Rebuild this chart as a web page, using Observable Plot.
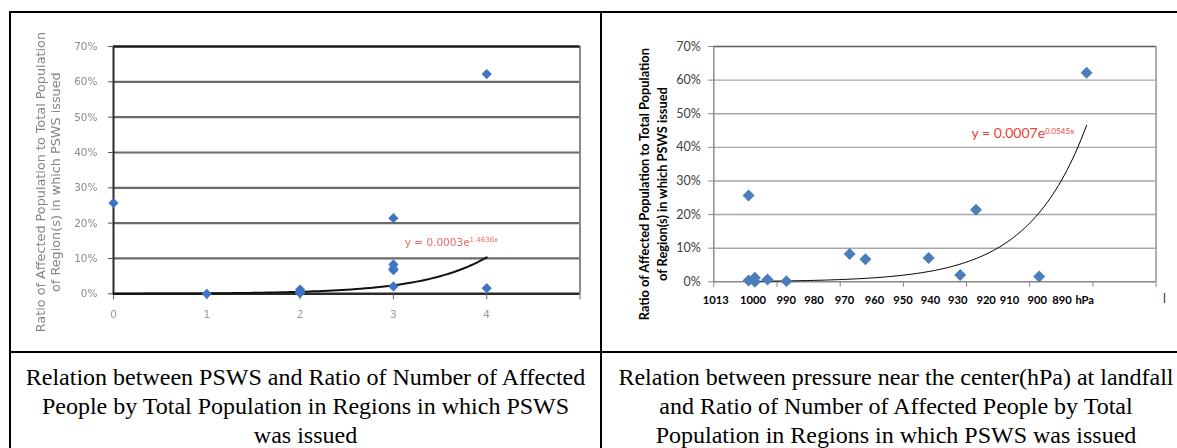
<!DOCTYPE html>
<html><head><meta charset="utf-8">
<script src="https://cdn.jsdelivr.net/npm/d3@7"></script>
<script src="https://cdn.jsdelivr.net/npm/@observablehq/plot@0.6"></script>
<style>
html,body{margin:0;padding:0;}
body{width:1177px;height:448px;overflow:hidden;background:#fff;position:relative;}
.ln{position:absolute;background:#000;}
.cap{position:absolute;font-family:"Liberation Serif","Times New Roman",serif;font-size:24px;line-height:29px;text-align:center;color:#000;white-space:nowrap;}
#left,#right{position:absolute;}
#left svg{filter:blur(0.55px);}
.bar{position:absolute;left:1163px;top:291px;font-family:"Liberation Sans",sans-serif;font-size:11px;color:#000;}
</style></head><body>
<div class="ln" style="left:9px;top:11px;width:1200px;height:2px"></div>
<div class="ln" style="left:9px;top:11px;width:2px;height:440px"></div>
<div class="ln" style="left:600px;top:11px;width:2px;height:440px"></div>
<div class="ln" style="left:9px;top:351px;width:1200px;height:2px"></div>
<div id="left" style="left:11px;top:13px"></div>
<div id="right" style="left:602px;top:13px"></div>
<div class="bar">|</div>
<div class="cap" style="left:11px;top:363px;width:589px">Relation between PSWS and Ratio of Number of Affected<br>People by Total Population in Regions in which PSWS<br>was issued</div>
<div class="cap" style="left:602px;top:363px;width:588px">Relation between pressure near the center(hPa) at landfall<br>and Ratio of Number of Affected People by Total<br>Population in Regions in which PSWS was issued</div>
<script>
// ---- data ----
const pswsLevel = [0, 1, 2, 2, 2, 2, 3, 3, 3, 3, 3, 4, 4];
const ratioByPsws = [0.257, 0.000, 0.012, 0.007, 0.004, 0.002, 0.214, 0.083, 0.067, 0.071, 0.021, 0.622, 0.016];
const pressureDrop = [11, 11, 13, 13, 17, 23, 43, 48, 68, 78, 83, 103, 118];
const ratioByPressure = [0.257, 0.004, 0.012, 0.000, 0.007, 0.002, 0.083, 0.067, 0.071, 0.020, 0.214, 0.016, 0.622];
const yTicks = [0, 0.1, 0.2, 0.3, 0.4, 0.5, 0.6, 0.7];
const pswsTicks = [0, 1, 2, 3, 4, 5];
const pswsTickLabels = ["0", "1", "2", "3", "4", ""];
const pressTicks = [0, 20, 40, 60, 80, 100, 120, 140];
const hpaLabels = ["1013", "1000", "990", "980", "970", "960", "950", "940", "930", "920", "910", "900", "890", "hPa"];
const hpaLabelPos = [0.6, 12.4, 22.9, 31.7, 41.4, 50.9, 59.9, 68.6, 77.2, 86.2, 93.6, 102.4, 110.2, 117.4];
const trendLeft = {a: 0.0003, b: 1.46, base: "y = 0.0003e", sup: "1.4636x"};
const trendRight = {a: 0.00075, b: 0.0545, base: "y = 0.0007e", sup: "0.0545x"};
const titleY = "Ratio of Affected Population to Total Population\nof Region(s) in which PSWS issued";

const pct = d => Math.round(d * 100) + "%";
const ptsL = pswsLevel.map((x, i) => ({x, y: ratioByPsws[i]}));
const ptsR = pressureDrop.map((x, i) => ({x, y: ratioByPressure[i]}));
function trendPts(t, x0, x1, n) {
  return d3.range(n + 1).map(i => { const x = x0 + (x1 - x0) * i / n; return {x, y: t.a * Math.exp(t.b * x)}; });
}
const curveL = trendPts(trendLeft, d3.min(pswsLevel), d3.max(pswsLevel), 80);
const curveR = trendPts(trendRight, d3.min(pressureDrop), d3.max(pressureDrop), 120);
const endL = curveL[curveL.length - 1];
const endR = curveR[curveR.length - 1];
const hpaMap = new Map(hpaLabelPos.map((p, i) => [p, hpaLabels[i]]));

function addSup(svg, base, sup, size) {
  d3.select(svg).selectAll("text").filter(function () { return this.textContent === base; })
    .each(function () { d3.select(this).append("tspan").attr("dy", "-0.5em").attr("font-size", size).text(sup); });
}

const left = Plot.plot({
  width: 589, height: 338,
  marginLeft: 102, marginRight: 20.5, marginTop: 33, marginBottom: 57.7,
  x: {domain: [0, 5], label: null}, y: {domain: [0, 0.7], label: null},
  style: {fontFamily: "'DejaVu Sans', sans-serif", background: "transparent", overflow: "visible"},
  marks: [
    Plot.ruleY(yTicks.slice(1, -1), {stroke: "#6a6a6a", strokeWidth: 2.2}),
    Plot.ruleX([5], {stroke: "#8a8a8a", strokeWidth: 2}),
    Plot.ruleY([0.7], {stroke: "#1a1a1a", strokeWidth: 2.5}),
    Plot.ruleX([0], {stroke: "#2a2a2a", strokeWidth: 2}),
    Plot.ruleY([0], {stroke: "#2a2a2a", strokeWidth: 2.5}),
    Plot.axisY({ticks: yTicks, tickFormat: pct, tickSize: 5, tickPadding: 11, fontSize: 10.5, stroke: "#555", fill: "#8c8c8c", label: null}),
    Plot.axisX({ticks: pswsTicks, tickFormat: d => pswsTickLabels[pswsTicks.indexOf(d)], tickSize: 6, tickPadding: 11, fontSize: 10.5, stroke: "#666", fill: "#9a9a9a", label: null}),
    Plot.text([titleY], {text: d => d, frameAnchor: "left", dx: -66, dy: 12, rotate: -90, fontSize: 12.8, lineHeight: 1.2, fill: "#858585", textAnchor: "middle"}),
    Plot.line(curveL, {x: "x", y: "y", stroke: "#111", strokeWidth: 2}),
    Plot.dot(ptsL, {x: "x", y: "y", symbol: "diamond2", r: 4.6, fill: "#3f74c2", stroke: "none"}),
    Plot.text([endL], {x: "x", y: "y", text: () => trendLeft.base, dx: -82, dy: -15, textAnchor: "start", fontSize: 10.5, fill: "#e66a6a"})
  ]
});
addSup(left, trendLeft.base, trendLeft.sup, 7);
document.getElementById("left").append(left);

const right = Plot.plot({
  width: 575, height: 338,
  marginLeft: 111.3, marginRight: 21.4, marginTop: 33, marginBottom: 69.7,
  x: {domain: [0, 140], label: null}, y: {domain: [0, 0.7], label: null},
  style: {fontFamily: "Lato, 'Open Sans', sans-serif", background: "transparent", overflow: "visible"},
  marks: [
    Plot.ruleY(yTicks.slice(1, -1), {stroke: "#a6a6a6", strokeWidth: 1.4}),
    Plot.ruleX([140], {stroke: "#8c8c8c", strokeWidth: 1.4}),
    Plot.ruleY([0.7], {stroke: "#5a5a5a", strokeWidth: 1.6}),
    Plot.ruleX([0], {stroke: "#868686", strokeWidth: 1.4}),
    Plot.ruleY([0], {stroke: "#868686", strokeWidth: 1.4}),
    Plot.axisY({ticks: yTicks, tickFormat: pct, tickSize: 5, tickPadding: 8, fontSize: 12.5, stroke: "#868686", fill: "#404040", label: null}),
    Plot.axisX({ticks: pressTicks, tickFormat: () => "", tickSize: 5.5, stroke: "#868686", label: null}),
    Plot.axisX({ticks: hpaLabelPos, tickFormat: d => hpaMap.get(d), tickSize: 0, tickPadding: 14.5, fontSize: 11.2, fontWeight: "bold", fill: "#000", label: null}),
    Plot.text([titleY], {text: d => d, frameAnchor: "left", dx: -61.3, dy: 20, rotate: -90, fontSize: 12.8, fontWeight: "bold", lineHeight: 1.36, fill: "#000", textAnchor: "middle"}),
    Plot.line(curveR, {x: "x", y: "y", stroke: "#000", strokeWidth: 1}),
    Plot.dot(ptsR, {x: "x", y: "y", symbol: "diamond2", r: 5.4, fill: "#4a7ebb", stroke: "none"}),
    Plot.text([endR], {x: "x", y: "y", text: () => trendRight.base, dx: -115, dy: 8, textAnchor: "start", fontSize: 14, fill: "#f03c3c"})
  ]
});
addSup(right, trendRight.base, trendRight.sup, 8);
document.getElementById("right").append(right);
</script>
</body></html>
